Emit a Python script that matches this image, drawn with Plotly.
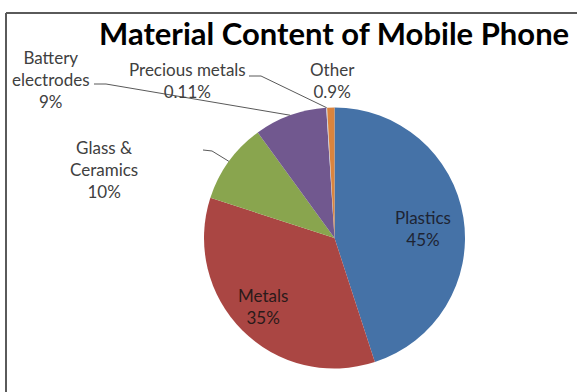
import math
import plotly.graph_objects as go

# Material breakdown of a mobile phone (% by weight)
materials = ["Plastics", "Metals", "Glass &<br>Ceramics", "Battery<br>electrodes",
             "Precious metals", "Other"]
shares = [45, 35, 10, 9, 0.11, 0.9]
slice_colors = ["#4572A7", "#AA4643", "#89A54E", "#71588F", "#C8CEDC", "#DB843D"]

W, H = 577, 392
# pie geometry in pixels
CX, CY, R = 334.5, 238, 130.5

def px(x):
    return x / W

def py(y):
    return 1 - y / H

fig = go.Figure(go.Pie(
    labels=materials,
    values=shares,
    marker=dict(colors=slice_colors, line=dict(width=0)),
    sort=False,
    direction="clockwise",
    rotation=0,
    textinfo="none",
    hoverinfo="label+percent",
    domain=dict(x=[px(CX - R), px(CX + R)], y=[py(CY + R), py(CY - R)]),
    showlegend=False,
))

total = sum(shares)

def mid_point(i, frac=1.0):
    """Pixel point at the angular middle of slice i, at frac * radius."""
    before = sum(shares[:i])
    ang = 2 * math.pi * (before + shares[i] / 2) / total  # clockwise from 12 o'clock
    return CX + frac * R * math.sin(ang), CY - frac * R * math.cos(ang)

# label centres (px) and font colours
label_pos = [(423, 229), (263, 306), (104, 169), (51, 79), (187, 81), (332, 80)]
label_col = ["#1E2433", "#2A1A1A", "#404040", "#404040", "#404040", "#404040"]

annotations = []
for i, name in enumerate(materials):
    x, y = label_pos[i]
    annotations.append(dict(
        x=px(x), y=py(y), xref="paper", yref="paper",
        text=f"{name}<br>{shares[i]:g}%",
        showarrow=False, xanchor="center", yanchor="middle",
        font=dict(family="Lato", size=17, color=label_col[i]),
    ))

annotations.append(dict(
    x=px(334), y=py(33), xref="paper", yref="paper",
    text="<b>Material Content of Mobile Phone</b>", showarrow=False,
    xanchor="center", yanchor="middle",
    font=dict(family="Lato", size=31, color="#000000"),
))

# leader lines: label corner -> short elbow -> slice middle on the rim
leaders = {3: [(94, 84), (106, 84)], 4: [(249, 76), (261, 76)], 2: [(203, 150), (212, 151)]}
shapes = []
for i, pts in leaders.items():
    ex, ey = mid_point(i, 1.0)
    coords = pts + [(ex, ey)]
    path = "M " + " L ".join(f"{px(a):.5f},{py(b):.5f}" for a, b in coords)
    shapes.append(dict(type="path", path=path, xref="paper", yref="paper",
                       line=dict(color="#595959", width=1)))

# chart frame (top and left edges)
shapes.append(dict(type="line", xref="paper", yref="paper",
                   x0=px(6), y0=py(13), x1=1, y1=py(13),
                   line=dict(color="#5A5A5A", width=2)))
shapes.append(dict(type="line", xref="paper", yref="paper",
                   x0=px(6), y0=py(13), x1=px(6), y1=0,
                   line=dict(color="#5A5A5A", width=2)))

fig.update_layout(
    width=W, height=H,
    margin=dict(l=0, r=0, t=0, b=0),
    paper_bgcolor="white", plot_bgcolor="white",
    annotations=annotations, shapes=shapes,
)

fig.write_html("out.html")
